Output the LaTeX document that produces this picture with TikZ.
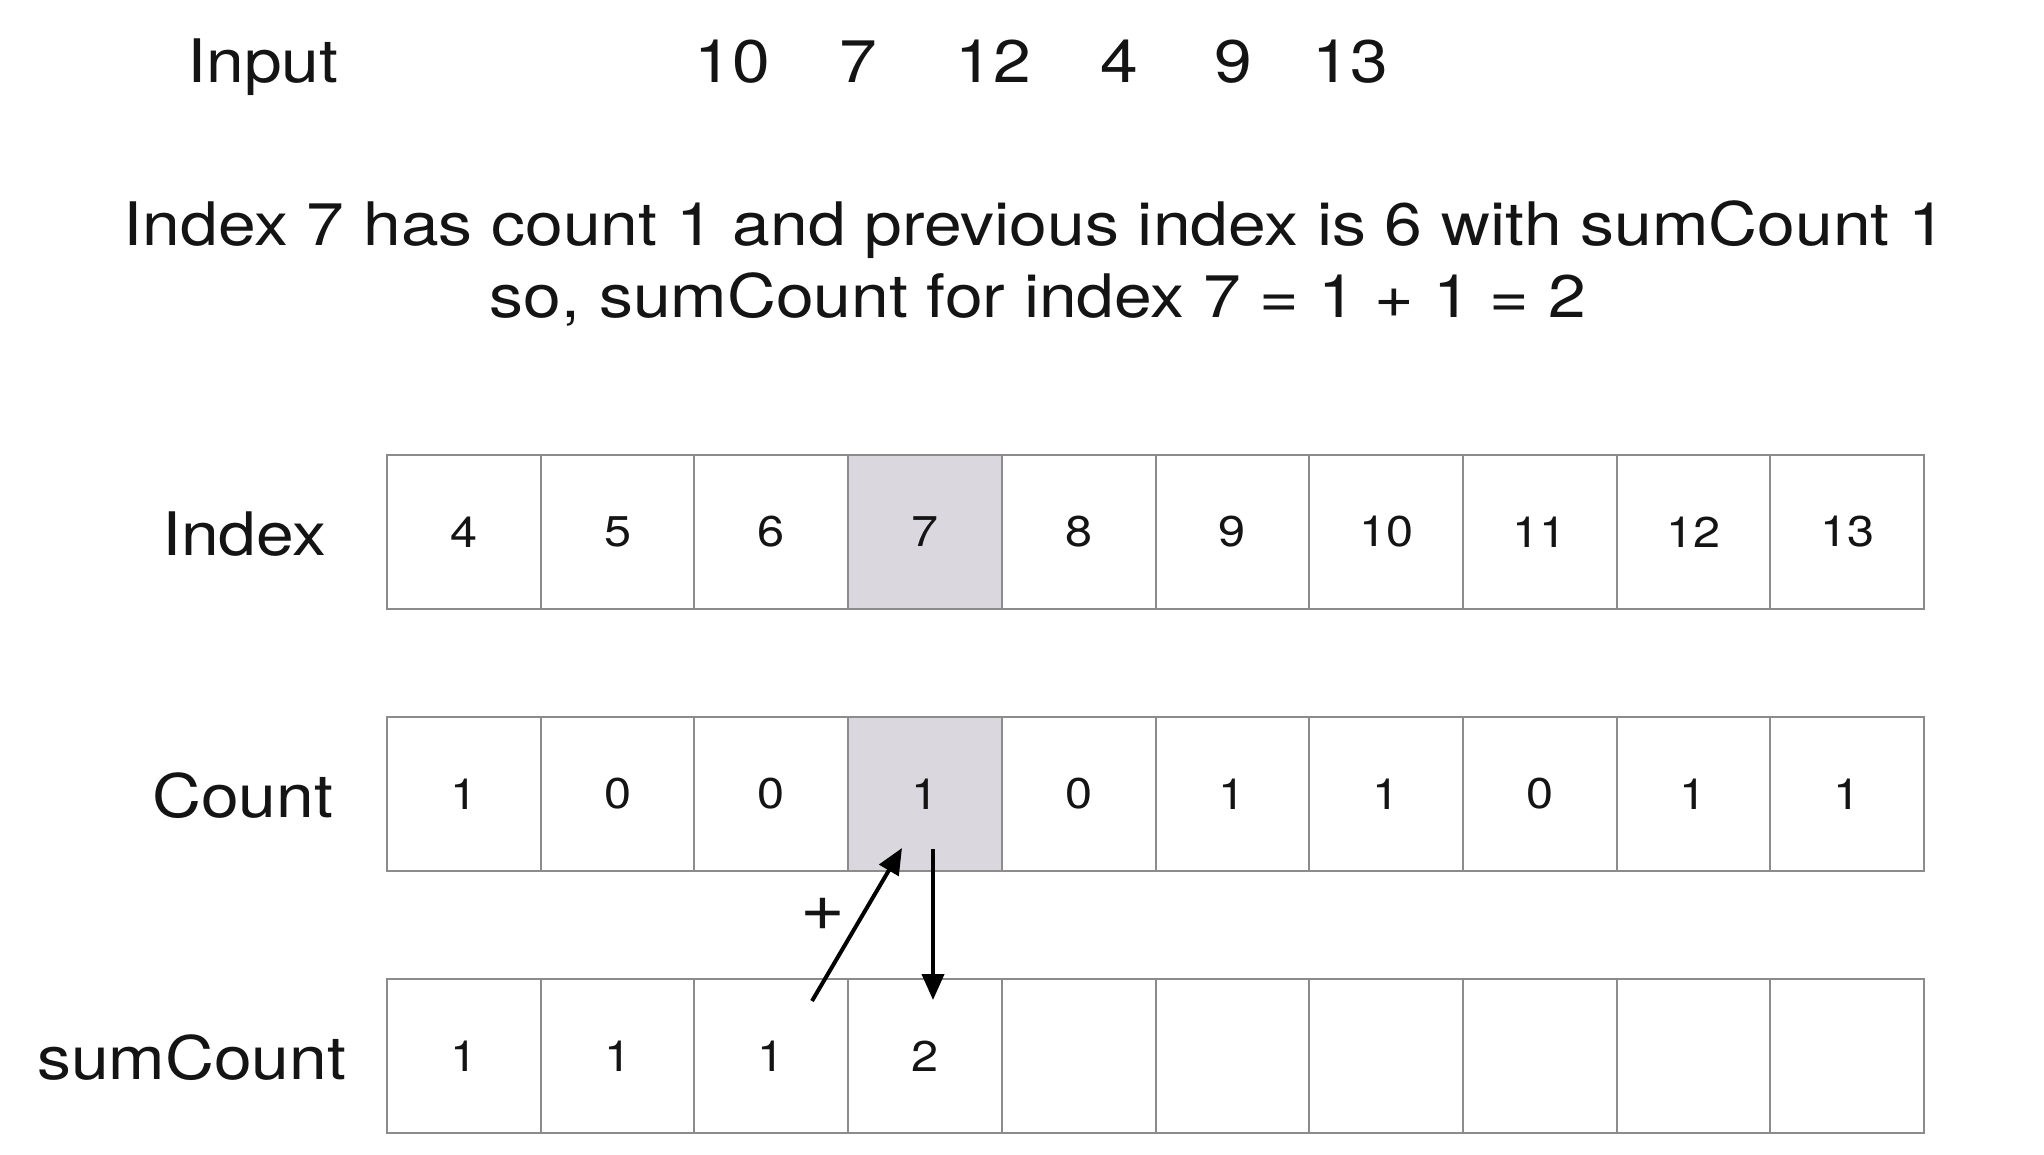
\documentclass[tikz,border=0pt]{standalone}
\usepackage{fontspec}
\setmainfont[FakeStretch=1.13]{TeX Gyre Heros}
\usetikzlibrary{arrows.meta}
\definecolor{cellgray}{RGB}{140,140,140}
\definecolor{hlgray}{RGB}{218,216,222}
\definecolor{txt}{RGB}{20,20,20}
\begin{document}
\begin{tikzpicture}[x=1pt,y=-1pt,
 cell/.style={draw=cellgray, line width=2pt, minimum width=153.7pt, minimum height=153.7pt, inner sep=0pt, text=txt, font=\fontsize{43}{48}\selectfont},
 hl/.style={fill=hlgray},
 plain/.style={},
 big/.style={font=\fontsize{60}{68}\selectfont, inner sep=0pt, text=txt},
 arr/.style={line width=4pt, -{Triangle[length=26pt,width=22pt]}}
]
\useasboundingbox[fill=white] (0,0) rectangle (2044,1154);
% header
\node[big, anchor=base west] (input) at (187,82) {Input};
\node[big, anchor=base] (n1) at (732,82) {10};
\node[big, anchor=base] (n2) at (858,82) {7};
\node[big, anchor=base] (n3) at (993,82) {12};
\node[big, anchor=base] (n4) at (1119,82) {4};
\node[big, anchor=base] (n5) at (1233,82) {9};
\node[big, anchor=base] (n6) at (1350,82) {13};
\node[big, anchor=base] (l1) at (1035,245) {Index 7 has count 1 and previous index is 6 with sumCount 1};
\node[big, anchor=base] (l2) at (1038,317) {so, sumCount for index 7 = 1 + 1 = 2};
% row labels
\node[big, anchor=base west] (lidx) at (162,555) {Index};
\node[big, anchor=base west] (lcnt) at (152,817) {Count};
\node[big, anchor=base west] (lsum) at (37,1079) {sumCount};
% cells
\foreach \v/\s [count=\i from 0] in {4/plain,5/plain,6/plain,7/hl,8/plain,9/plain,10/plain,11/plain,12/plain,13/plain}
  \node[cell,\s] (i\i) at ({387+153.7*(\i+0.5)},532) {\v};
\foreach \v/\s [count=\i from 0] in {1/plain,0/plain,0/plain,1/hl,0/plain,1/plain,1/plain,0/plain,1/plain,1/plain}
  \node[cell,\s] (c\i) at ({387+153.7*(\i+0.5)},794) {\v};
\foreach \v [count=\i from 0] in {1,1,1,2,{},{},{},{},{},{}}
  \node[cell] (s\i) at ({387+153.7*(\i+0.5)},1056) {\v};
% arrows
\coordinate (a1s) at (812,1001);
\coordinate (a1e) at (902,848);
\coordinate (a2s) at (933,849);
\coordinate (a2e) at (933,1000);
\draw[arr] (a1s) -- (a1e);
\draw[arr] (a2s) -- (a2e);
\node[font=\fontsize{68}{72}\selectfont, inner sep=0pt, text=txt] (plus) at (823,914) {+};
\end{tikzpicture}
\end{document}
